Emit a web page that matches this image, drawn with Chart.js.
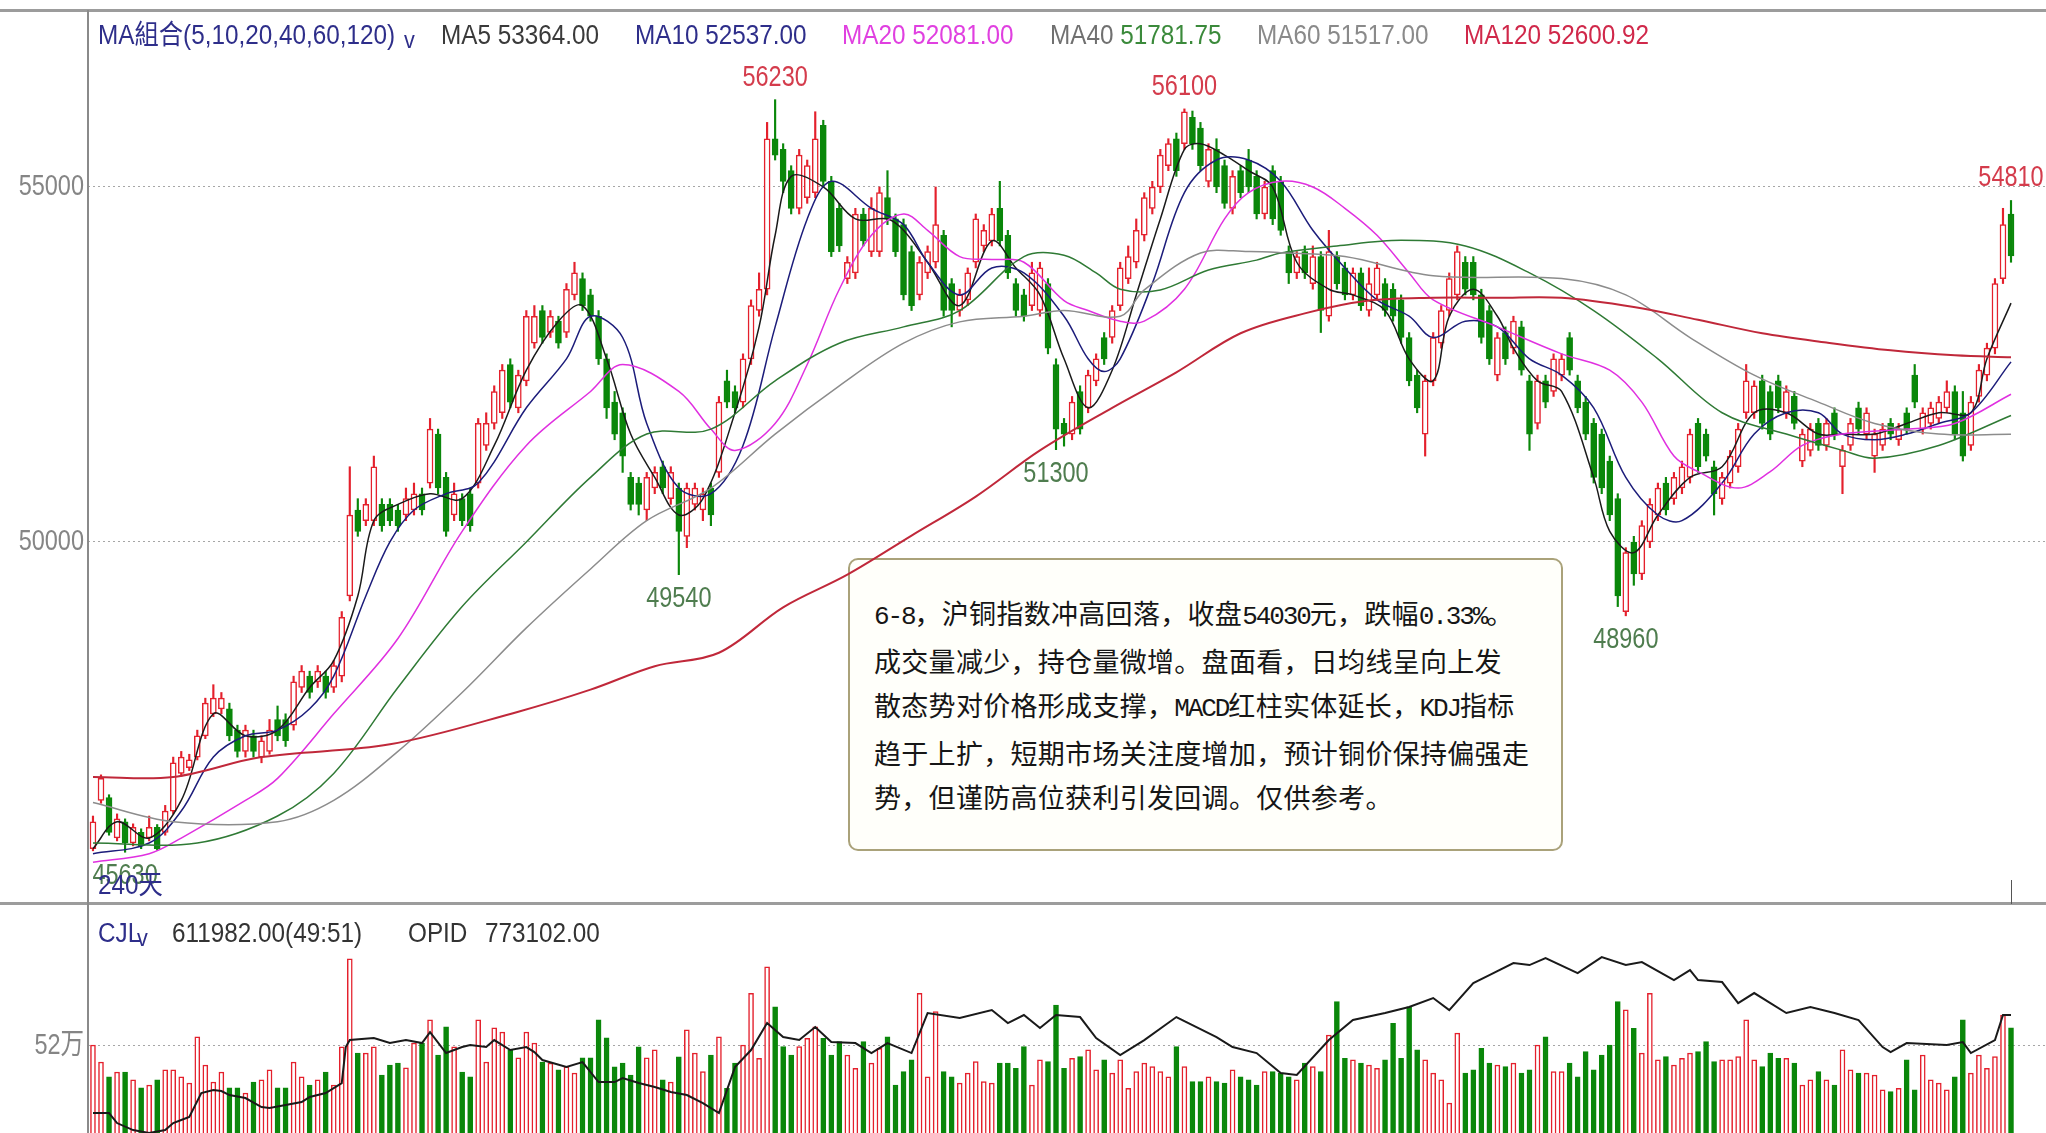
<!DOCTYPE html>
<html>
<head>
<meta charset="utf-8">
<script src="https://cdn.jsdelivr.net/npm/chart.js@4.4.1/dist/chart.umd.min.js"></script>
<style>
  html, body { margin: 0; padding: 0; background: #fff; overflow: hidden; }
  body { width: 2046px; height: 1133px; position: relative; font-family: "Liberation Sans", Arial, "Noto Sans CJK SC", sans-serif; }
  .rule { position: absolute; left: 0; width: 2046px; height: 3px; background: #9c9c9c; }
  .axisline { position: absolute; left: 87px; top: 10px; width: 2px; height: 1123px; background: #8a8a8a; z-index: 3; }
  .lg { position: absolute; font-size: 27px; line-height: 30px; white-space: nowrap; z-index: 4;
        transform: scaleX(0.9); transform-origin: 0 50%; }
  .note { position: absolute; left: 848px; top: 558px; width: 715px; height: 293px; box-sizing: border-box;
          border: 2px solid #aaa27a; border-radius: 10px; background: #fffffa; z-index: 0;
          padding: 31px 0 0 24px; font-family: "Noto Sans CJK SC", sans-serif; font-size: 27px;
          letter-spacing: 0.3px; line-height: 44px; color: #161616; white-space: nowrap; }
  .note .m { font-family: "Liberation Mono", "DejaVu Sans Mono", monospace; font-size: 26px; letter-spacing: -2.1px; }
  canvas { position: absolute; left: 0; z-index: 2; }
</style>
</head>
<body>
<div class="rule" style="top:9px"></div>
<div class="rule" style="top:902px"></div>
<div class="axisline"></div>

<div class="lg" style="left:98px;top:20px;color:#2e2e8a">MA組合(5,10,20,40,60,120)</div>
<div class="lg" style="left:404px;top:25px;color:#2e2e8a;font-size:24px">v</div>
<div class="lg" style="left:441px;top:20px;color:#3a3a3a">MA5 53364.00</div>
<div class="lg" style="left:635px;top:20px;color:#2e2e8a">MA10 52537.00</div>
<div class="lg" style="left:842px;top:20px;color:#e040e0">MA20 52081.00</div>
<div class="lg" style="left:1050px;top:20px;color:#707070">MA40 <span style="color:#3b8a3b">51781.75</span></div>
<div class="lg" style="left:1257px;top:20px;color:#8a8a8a">MA60 51517.00</div>
<div class="lg" style="left:1464px;top:20px;color:#d0284a">MA120 52600.92</div>

<div class="lg" style="left:98px;top:870px;color:#2e2e8a">240天</div>

<div class="lg" style="left:98px;top:918px;color:#2e2e8a">CJL</div>
<div class="lg" style="left:137px;top:923px;color:#2e2e8a;font-size:24px">v</div>
<div class="lg" style="left:172px;top:918px;color:#333">611982.00(49:51)</div>
<div class="lg" style="left:408px;top:918px;color:#333">OPID</div>
<div class="lg" style="left:485px;top:918px;color:#333">773102.00</div>

<div class="note"><span class="m">6-8</span>，沪铜指数冲高回落，收盘<span class="m">54030</span>元，跌幅<span class="m">0.33%</span>。<br>成交量减少，持仓量微增。盘面看，日均线呈向上发<br>散态势对价格形成支撑，<span class="m">MACD</span>红柱实体延长，<span class="m">KDJ</span>指标<br>趋于上扩，短期市场关注度增加，预计铜价保持偏强走<br>势，但谨防高位获利引发回调。仅供参考。</div>

<canvas id="priceChart" width="2046" height="894" style="top:10px"></canvas>
<canvas id="volChart" width="2046" height="229" style="top:904px"></canvas>

<script>
// daily candles, 240 days
const opens = [45680,46360,46400,45830,46060,45760,45910,45830,45980,45910,46210,46740,46820,46970,47270,47580,47650,47650,47350,47050,
47270,46970,47050,47500,47500,47420,47950,48110,48030,48110,47950,48110,49240,50450,50300,50300,50530,50530,50450,50380,
50450,50680,50830,51520,50910,50380,50610,50680,50830,51360,51670,51820,52500,51890,52270,52800,53260,52950,53110,52950,
53480,53710,53480,53180,52580,51970,51820,50910,50830,50450,50760,51060,50610,50760,50080,50530,50450,50760,50980,52270,
52120,51970,52580,53260,53560,55680,55530,55230,54700,54850,54920,55870,55080,54700,53710,53790,54620,54090,54090,54850,
54550,54470,54090,53480,53790,53940,54320,53640,53260,53410,53940,54170,54240,54700,54320,53640,53480,53330,53260,53640,
52500,51670,51520,52120,51890,52270,52880,52880,53330,53710,53940,54320,54700,55000,55300,55680,55610,55980,55830,55080,
55530,55300,54700,55230,55380,55150,54620,55230,55080,54090,53790,54090,53640,54020,53180,54020,53860,53480,53790,53260,
53480,53640,53560,53410,52880,52350,51520,52270,52800,53260,53480,53940,53940,53480,53260,52350,52950,52730,53030,52270,
51670,52270,52120,52350,52880,52270,51970,51670,51520,51140,50610,49020,50000,49550,50000,50380,50830,50610,50760,50910,
51670,51520,51060,50610,50830,51060,51820,51820,52270,52120,52270,51820,52050,51140,51290,51670,51360,51820,51060,51360,
51890,51520,51210,51360,51670,51440,51820,52350,51590,51670,51740,51890,52120,51820,51360,52050,52350,52730,53710,54620];
const highs = [46140,46720,46440,46170,46100,46030,45960,46140,46020,46290,46970,47050,47010,47350,47800,47990,47880,47730,47420,47420,
47350,47270,47500,47690,47580,48110,48260,48180,48260,48180,48330,49020,51060,50610,50610,51210,50610,50610,50530,50760,
50830,50760,51740,51590,50980,50830,50680,50760,51740,51820,52200,52500,52580,52420,53260,53330,53330,53260,53180,53640,
53940,53790,53560,53260,52650,52120,51890,50980,50910,50980,51060,51140,51060,50830,50830,50830,50760,50830,52050,52420,
52200,52650,53410,53790,55910,56230,55610,55300,55530,55380,56060,55940,55150,54770,54020,54700,54700,54850,55000,55230,
54620,54550,54170,54020,54170,55000,54390,53710,53560,53860,54620,54470,54700,55080,54390,53710,53560,53940,53940,53710,
52580,51740,52050,52200,52420,52650,52950,53330,53940,54170,54550,54920,55080,55530,55680,55760,56100,56070,55910,55610,
55680,55380,55230,55300,55530,55230,55080,55300,55150,54170,54090,54170,54170,54090,54390,54090,53940,53860,53860,53860,
53940,53710,53640,53480,52950,52420,52350,52950,53330,53790,54170,54020,54020,53560,53330,52950,53030,53180,53110,52350,
52350,52350,52650,52650,52950,52350,52050,51740,51590,51210,50680,49920,50080,50300,50610,50830,50910,50980,51140,51590,
51740,51590,51140,50980,51290,51670,52500,52270,52350,52200,52350,52200,52120,51590,51670,51740,51740,51890,51360,51740,
51970,51890,51590,51670,51740,51670,51890,52500,51890,51970,52050,52270,52200,52120,52050,52500,52800,53710,54700,54810];
const lows = [45650,46320,45870,45790,45630,45720,45680,45790,45660,45870,46170,46700,46780,46930,47230,47540,47580,47200,46970,46970,
46970,46890,47010,47200,47120,47350,47880,47800,47950,47800,47880,48030,49170,50080,50230,50230,50150,50230,50150,50300,
50380,50380,50760,50680,50080,50300,50230,50150,50760,51290,51590,51740,51890,51820,52200,52730,52800,52880,52730,52880,
53410,53260,53110,52500,51740,51440,50980,50450,50380,50300,50680,50680,50530,49540,49920,50450,50300,50230,50910,51890,
51820,51890,52500,53180,53480,55380,54920,54620,54620,54770,54850,55000,54020,54090,53640,53710,54170,54020,54020,54470,
54020,53410,53260,53410,53710,53860,53180,53030,53180,53330,53860,54090,54170,54170,53710,53180,53110,53260,53180,52650,
51300,51350,51440,51520,51820,52200,52500,52800,53260,53640,53860,54240,54620,54920,55230,55150,55530,55530,55230,55000,
54920,54700,54620,54850,54920,54550,54550,54470,54320,53640,53710,53710,53560,52950,53110,53560,53410,53410,53260,53180,
53410,53180,53110,52800,52200,51820,51210,52200,52730,53180,53410,53480,53410,52800,52500,52270,52500,52650,52350,51290,
51590,51890,52050,52270,52350,51820,51440,50830,50680,50300,49090,48960,49390,49470,49920,50300,50380,50530,50680,50830,
50980,51140,50380,50530,50760,50980,51740,51740,51590,51440,51820,51740,51590,51060,51210,51290,51290,51440,50680,51290,
51520,51440,50980,51290,51440,51360,51520,51890,51520,51590,51670,51820,51440,51140,51290,51970,52270,52650,53640,53940];
const closes = [46060,46670,45910,46100,45760,45980,45720,45980,45680,46210,46890,46970,46930,47270,47730,47800,47800,47270,47050,47350,
47050,47200,47350,47270,47200,48030,48180,47880,48180,47880,48260,48940,50380,50150,50530,51060,50230,50300,50230,50610,
50680,50450,51590,50760,50150,50680,50300,50230,51670,51670,52120,52420,51970,52350,53180,53180,52880,53180,52800,53560,
53790,53330,53180,52580,51890,51520,51210,50530,50530,50910,50980,50760,50980,50150,50760,50760,50680,50380,51970,51970,
51890,52580,53330,53560,55680,55450,55080,54700,55450,55300,55680,55080,54090,54170,53940,54620,54240,54700,54920,54550,
54090,53480,53330,53940,54090,54470,53260,53260,53480,53790,54550,54390,54620,54240,53790,53260,53180,53790,53860,52730,
51590,51520,51970,51590,52350,52580,52580,53260,53860,54020,54390,54850,55000,55450,55610,55230,56060,55610,55300,55530,
55000,54770,55150,54920,55000,54620,55000,54550,54390,53790,54020,53790,54020,53260,54090,53640,53480,53790,53330,53640,
53860,53260,53180,52880,52270,51890,52270,52880,53260,53710,54090,53560,53480,52880,52580,52880,52580,53110,52420,51520,
52270,51970,52580,52580,52420,51890,51520,50910,50760,50380,49240,49850,49550,50230,50530,50760,50450,50910,51060,51520,
51060,51210,50680,50910,51210,51590,52270,52200,51670,51520,51890,52120,51670,51520,51590,51360,51670,51520,51290,51670,
51590,51820,51520,51590,51520,51590,51590,51970,51820,51890,51970,52120,51520,51210,51970,52420,52730,53640,54470,54030];

// volume in thousands (hands)
const volumeK = [525,438,362,387,387,347,306,321,347,398,398,362,331,566,423,336,387,306,306,280,
336,347,398,306,306,438,362,321,347,387,321,515,964,484,484,515,372,423,433,408,
535,535,653,474,617,515,387,362,653,438,612,591,500,459,591,535,438,433,398,413,
382,459,459,653,561,413,433,372,515,459,500,347,336,464,602,484,
389,474,567,304,432,525,789,457,924,720,517,474,517,559,618,559,474,542,474,406,
542,432,508,567,321,389,449,789,363,695,389,363,330,381,440,338,330,432,432,406,
517,321,449,440,729,406,457,466,500,398,449,381,449,304,389,432,415,389,363,517,
415,338,338,363,338,330,398,363,347,321,389,389,381,363,347,432,415,389,576,746,
457,449,432,423,406,449,636,457,720,500,449,381,347,228,585,381,398,508,432,423,
415,432,381,398,525,567,389,389,432,363,491,398,474,525,746,704,610,483,789,449,
466,423,457,483,491,542,440,449,449,466,653,449,415,483,457,457,432,321,347,389,
347,321,500,398,381,381,372,296,287,304,449,296,474,347,330,296,363,653,381,474,
406,466,678,611.982];

// open interest readings [day, thousands]
const opidK = [[0,577],[2,577],[3,557],[5,543],[7,537],[9,543],[10,557],[11,563],[12,569],[13.5,617],[15,623],[16,621],[17,613],[19,607],
[21,589],[22,587],[24,593],[26,599],[27,609],[29,617],[31,637],[31.5,709],[32,723],[35,727],[37,717],[39,723],[41,717],[42,739],[44,697],
[46,709],[47,713],[49,709],[50,723],[52,703],[54,709],[55,699],[56,683],[59,669],[61,679],[63,639],[65,639],[66,647],[68,637],[70,629],
[72,619],[74,613],[76,597],[78,577],[80,669],[82,703],[84,757],[86,729],[88,723],[90,749],[92,719],[95,717],[97,697],[99,717],[102,697],
[104,777],[108,767],[112,783],[114,757],[116,773],[118,747],[120,773],[123,769],[125,727],[128,693],[131,723],[135,769],[140,729],
[142,709],[145,697],[148,657],[150,653],[154,723],[157,763],[161,777],[164,789],[167,807],[169,783],[172,837],[174,853],[177,877],
[179,873],[181,887],[185,857],[188,889],[191,873],[193,879],[197,843],[199,863],[200,843],[203,839],[205,797],[207,817],[211,777],
[214,789],[217,777],[220,763],[223,709],[224,699],[226,717],[231,713],[233,719],[234,697],[237,723],[238,773],[239,773.102]];

// moving averages [day, price]
const ma5 = [[0,45680],[3,46060],[7,45830],[11,46360],[15,47580],[19,47270],[23,47350],[27,47950],[30,48330],[33,49240],[35,50300],
[38,50530],[42,50680],[46,50610],[50,51360],[54,52420],[58,53110],[61,53330],[64,52580],[67,51520],[70,50910],[73,50380],[76,50610],
[80,51820],[83,53030],[85,54320],[87,55150],[91,55000],[95,54550],[99,54550],[101,54390],[104,53940],[108,53330],[112,54240],
[115,53860],[118,53480],[121,52580],[124,51890],[127,52420],[130,53480],[133,54550],[136,55530],[138,55610],[141,55450],[144,55230],
[147,55000],[150,53940],[154,53560],[157,53480],[161,53260],[164,52580],[167,52270],[169,53180],[172,53560],[175,53180],[177,52730],
[180,52270],[183,52120],[187,50910],[189,50150],[192,49850],[195,50380],[199,50910],[203,51060],[207,51820],[211,51820],[215,51520],
[218,51520],[222,51520],[226,51670],[230,51820],[234,51820],[236,52580],[239,53364]];
const ma10 = [[0,45610],[7,45760],[11,46210],[15,46970],[19,47270],[23,47350],[27,47650],[30,48110],[34,49240],[37,50000],[40,50450],
[44,50680],[48,50830],[54,51890],[59,52580],[62,53180],[66,52880],[69,51670],[73,50760],[77,50680],[81,51360],[85,53030],[89,54550],
[92,55080],[97,54700],[101,54470],[104,53940],[108,53480],[112,53860],[116,53790],[121,53180],[124,52580],[126,52400],[128,52580],
[132,53640],[136,54920],[140,55380],[144,55380],[148,55080],[152,54390],[156,53860],[160,53410],[164,53180],[167,52880],[171,53110],
[175,53030],[179,52580],[183,52350],[187,51890],[191,50910],[195,50380],[198,50300],[203,50830],[207,51520],[211,51820],[215,51820],
[218,51520],[222,51440],[226,51520],[230,51670],[234,51820],[239,52537]];
const ma20 = [[0,45490],[7,45610],[11,45830],[19,46360],[23,46670],[30,47580],[38,48640],[46,50150],[54,51360],[62,52120],[66,52500],
[73,52120],[77,51590],[80,51290],[85,51670],[89,52500],[93,53560],[97,54320],[101,54620],[104,54390],[108,54020],[112,53980],
[116,53940],[121,53400],[124,53260],[128,53110],[131,53110],[136,53560],[141,54550],[144,54920],[148,55080],[152,55000],[156,54700],
[160,54320],[164,53790],[167,53410],[175,53030],[183,52650],[189,52420],[193,51970],[197,51210],[200,50990],[205,50760],[209,50990],
[213,51360],[218,51520],[226,51590],[232,51670],[239,52081]];
const ma40 = [[0,45760],[13,45760],[23,46140],[30,46740],[38,47950],[46,49090],[54,50000],[62,50910],[69,51520],[77,51590],[85,52270],
[93,52800],[101,53030],[108,53260],[116,54020],[121,54040],[125,53790],[128,53560],[133,53550],[139,53830],[145,53970],[148,54070],
[155,54170],[163,54250],[171,54170],[179,53790],[187,53260],[195,52580],[203,51820],[211,51520],[218,51290],[222,51180],[230,51360],
[239,51782]];
const ma60 = [[0,46330],[10,46060],[23,46060],[30,46360],[38,47050],[46,47880],[54,48790],[62,49620],[69,50300],[77,50760],[85,51520],
[93,52200],[101,52800],[108,53100],[116,53180],[121,53260],[128,53180],[131,53550],[138,54070],[144,54090],[148,54075],[156,54020],
[167,53750],[183,53710],[191,53480],[199,52880],[207,52350],[215,51970],[222,51670],[230,51520],[239,51517]];
const ma120 = [[0,46690],[10,46690],[21,46970],[37,47150],[53,47610],[62,47920],[70,48250],[78,48440],[86,49080],[94,49540],[102,50090],
[110,50640],[118,51290],[127,51890],[135,52390],[143,52940],[151,53220],[159,53400],[167,53440],[175,53440],[183,53440],[192,53310],
[200,53130],[208,52940],[216,52810],[224,52700],[232,52630],[239,52601]];

const markHigh = [85, 136, 239];
const markLow = [4, 73, 120, 191];
const priceTicks = [50000, 55000];
const volTicks = [520];

const RED = '#e4202c';
const GREEN = '#0a870a';
const LABEL_FONT = '29px "Liberation Sans", Arial, "Noto Sans CJK SC", sans-serif';
const SQUEEZE = 0.81;   // the original uses a narrow font

const days = opens.map((o, i) => i);
const isUp = i => closes[i] >= opens[i];
const toPoints = arr => arr.map(p => ({ x: p[0], y: p[1] }));

const xAxis = { type: 'linear', min: -0.62, max: 243.36, display: false, offset: false };

function leftAxis(scale) {
    scale.width = 88;
    scale.paddingTop = 0;
    scale.paddingBottom = 0;
}

function narrowText(ctx, text, x, y, align, color) {
    ctx.save();
    ctx.font = LABEL_FONT;
    ctx.fillStyle = color;
    ctx.textAlign = align;
    ctx.textBaseline = 'middle';
    ctx.translate(x, y);
    ctx.scale(SQUEEZE, 1);
    ctx.fillText(text, 0, 0);
    ctx.restore();
}

const yStyle = {
    position: 'left',
    grid: { color: '#a6a6a6', lineWidth: 1, drawTicks: false },
    border: { display: false, dash: [2, 3] },
    ticks: { display: false },
    afterFit: leftAxis
};

// y tick labels drawn narrow, from the axis' own ticks
const tickLabels = {
    id: 'tickLabels',
    afterDraw(chart, args, opts) {
        const y = chart.scales.y;
        y.ticks.forEach(t => {
            narrowText(chart.ctx, opts.format(t.value), 84, y.getPixelForValue(t.value), 'right', '#858585');
        });
    }
};

const markPlugin = {
    id: 'marks',
    afterDatasetsDraw(chart) {
        const { ctx, scales: { x, y } } = chart;
        markHigh.forEach(i => {
            narrowText(ctx, String(highs[i]), x.getPixelForValue(i), y.getPixelForValue(highs[i]) - 22, 'center', '#d43c4c');
        });
        markLow.forEach(i => {
            narrowText(ctx, String(lows[i]), x.getPixelForValue(i), y.getPixelForValue(lows[i]) + 24, 'center', '#4f7d4f');
        });
        // small cursor mark at the last day
        const lx = Math.round(x.getPixelForValue(days.length - 1)) + 0.5;
        ctx.save();
        ctx.strokeStyle = '#555';
        ctx.lineWidth = 1;
        ctx.beginPath();
        ctx.moveTo(lx, chart.chartArea.bottom - 24);
        ctx.lineTo(lx, chart.chartArea.bottom);
        ctx.stroke();
        ctx.restore();
    }
};

const maLine = (data, color, width) => ({
    type: 'line',
    data: toPoints(data),
    borderColor: color,
    borderWidth: width,
    pointRadius: 0,
    tension: 0.35,
    order: -1
});

new Chart(document.getElementById('priceChart'), {
    type: 'bar',
    data: {
        datasets: [
            maLine(ma120, '#c0283a', 2),
            maLine(ma60, '#8c8c8c', 1.5),
            maLine(ma40, '#2f7a35', 1.5),
            maLine(ma20, '#e030e0', 1.5),
            maLine(ma10, '#1c1c7a', 1.5),
            maLine(ma5, '#1a1a1a', 1.5),
            {
                data: days.map(i => ({ x: i, y: [opens[i], closes[i]] })),
                backgroundColor: c => isUp(c.dataIndex) ? '#ffffff' : GREEN,
                borderColor: c => isUp(c.dataIndex) ? RED : GREEN,
                borderWidth: 1.5,
                borderSkipped: false,
                barThickness: 6,
                grouped: false,
                order: 1
            },
            {
                data: days.map(i => ({ x: i, y: [lows[i], highs[i]] })),
                backgroundColor: c => isUp(c.dataIndex) ? RED : GREEN,
                borderWidth: 0,
                barThickness: 1.5,
                grouped: false,
                order: 2
            }
        ]
    },
    options: {
        responsive: false,
        animation: false,
        events: [],
        layout: { padding: 0 },
        plugins: {
            legend: { display: false },
            tooltip: { enabled: false },
            tickLabels: { format: v => String(v) }
        },
        scales: {
            x: xAxis,
            y: Object.assign({}, yStyle, {
                min: 44901,
                max: 57493,
                afterBuildTicks: s => { s.ticks = priceTicks.map(v => ({ value: v })); }
            })
        }
    },
    plugins: [markPlugin, tickLabels]
});

new Chart(document.getElementById('volChart'), {
    type: 'bar',
    data: {
        datasets: [
            {
                type: 'line',
                data: toPoints(opidK),
                yAxisID: 'y2',
                borderColor: '#1a1a1a',
                borderWidth: 2,
                pointRadius: 0,
                tension: 0,
                order: -1
            },
            {
                data: days.map(i => ({ x: i, y: volumeK[i] })),
                backgroundColor: c => isUp(c.dataIndex) ? '#ffffff' : GREEN,
                borderColor: c => isUp(c.dataIndex) ? RED : GREEN,
                borderWidth: 1.5,
                borderSkipped: false,
                barThickness: 5,
                grouped: false,
                order: 1
            }
        ]
    },
    options: {
        responsive: false,
        animation: false,
        events: [],
        layout: { padding: 0 },
        plugins: {
            legend: { display: false },
            tooltip: { enabled: false },
            tickLabels: { format: v => (v / 10) + '万' }
        },
        scales: {
            x: xAxis,
            y: Object.assign({}, yStyle, {
                min: 76,
                max: 1244,
                afterBuildTicks: s => { s.ticks = volTicks.map(v => ({ value: v })); }
            }),
            y2: { display: false, min: 537.1, max: 995.1 }
        }
    },
    plugins: [tickLabels]
});
</script>
</body>
</html>
